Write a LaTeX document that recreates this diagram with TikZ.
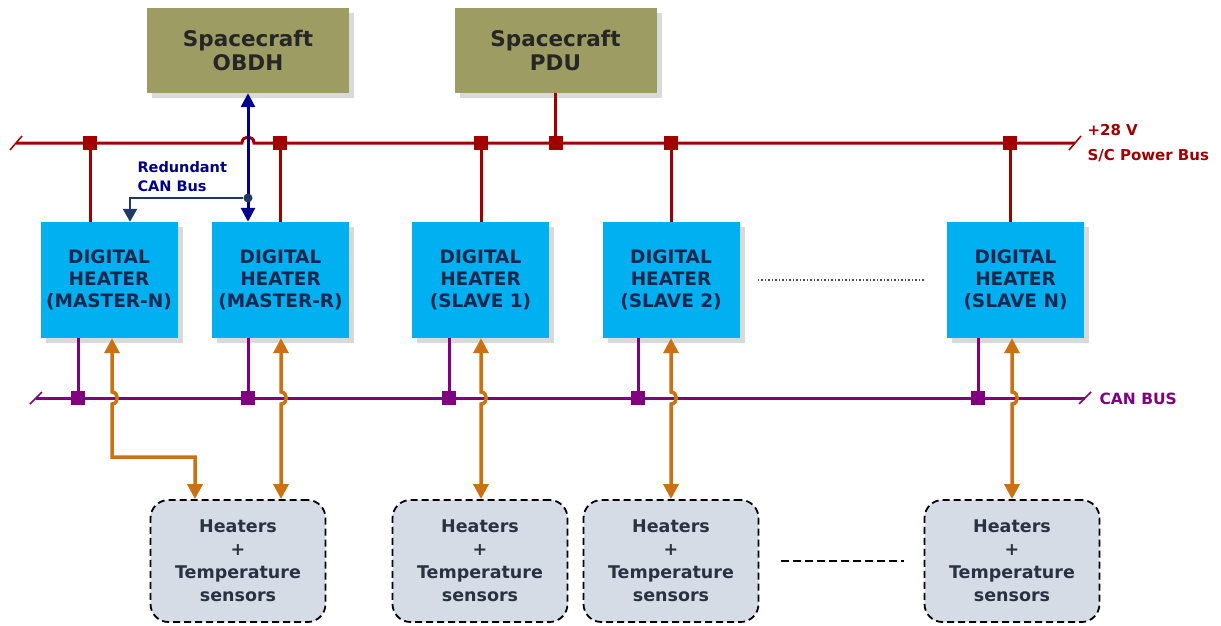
\documentclass[tikz,border=0pt]{standalone}
\usepackage{fontspec}
\setmainfont{DejaVu Sans}
\usetikzlibrary{arrows.meta,positioning,calc,shadows}
\definecolor{scolive}{RGB}{157,156,98}
\definecolor{heatblue}{RGB}{0,176,240}
\definecolor{heattxt}{RGB}{18,40,78}
\definecolor{sensfill}{RGB}{214,220,229}
\definecolor{senstxt}{RGB}{40,50,66}
\definecolor{pwred}{RGB}{162,0,0}
\definecolor{canpurple}{RGB}{128,0,128}
\definecolor{obdhblue}{RGB}{0,0,140}
\definecolor{redblue}{RGB}{31,56,100}
\definecolor{tcorange}{RGB}{204,112,20}

\begin{document}
\begin{tikzpicture}[x=1pt,y=-1pt,
  sc/.style={fill=scolive,minimum width=202pt,minimum height=85pt,align=center,
             font=\fontsize{21.5}{24}\selectfont\bfseries,text=black!85,
             drop shadow={shadow xshift=5pt,shadow yshift=-5pt,opacity=.3}},
  heater/.style={fill=heatblue,minimum width=137pt,minimum height=116pt,align=center,
                 font=\fontsize{18.5}{22}\selectfont\bfseries,text=heattxt,
                 drop shadow={shadow xshift=5pt,shadow yshift=-5pt,opacity=.3}},
  sensors/.style={draw=black,dash pattern=on 7pt off 4pt,line width=1.8pt,
                  rounded corners=18pt,fill=sensfill,minimum width=175pt,
                  minimum height=122pt,align=center,
                  font=\fontsize{17.5}{23}\selectfont\bfseries,text=senstxt},
  ptap/.style={fill=pwred,minimum size=14pt,inner sep=0pt},
  ctap/.style={fill=canpurple,minimum size=14pt,inner sep=0pt},
  pwr/.style={draw=pwred,line width=3pt},
  can/.style={draw=canpurple,line width=3pt},
  tc/.style={draw=tcorange,line width=3.5pt,{Triangle[width=15pt,length=15pt]}-{Triangle[width=15pt,length=15pt]}},
  lbl/.style={font=\fontsize{15}{25}\selectfont\bfseries,align=left,anchor=west}
]
  \useasboundingbox (0,0) rectangle (1221,625);

  % Spacecraft units
  \node[sc] (obdh) at (248,50.5) {Spacecraft\\OBDH};
  \node[sc] (pdu)  at (555.5,50.5) {Spacecraft\\PDU};

  % Digital heaters
  \node[heater] (mastern) at (109,280)    {DIGITAL\\HEATER\\(MASTER-N)};
  \node[heater] (masterr) at (280.5,280)  {DIGITAL\\HEATER\\(MASTER-R)};
  \node[heater] (slave1)  at (480.5,280)  {DIGITAL\\HEATER\\(SLAVE 1)};
  \node[heater] (slave2)  at (671,280)    {DIGITAL\\HEATER\\(SLAVE 2)};
  \node[heater] (slaven)  at (1015.5,280) {DIGITAL\\HEATER\\(SLAVE N)};

  % Heaters + sensors
  \node[sensors] (sens1) at (238,561)  {Heaters\\+\\Temperature\\sensors};
  \node[sensors] (sens2) at (480,561)  {Heaters\\+\\Temperature\\sensors};
  \node[sensors] (sens3) at (671,561)  {Heaters\\+\\Temperature\\sensors};
  \node[sensors] (sens4) at (1012,561) {Heaters\\+\\Temperature\\sensors};

  % Power bus
  \coordinate (pbl) at (16,143);
  \coordinate (pbr) at (1075,143);
  \coordinate (hop) at (248,143);
  \draw[pwr] (pbl) -- ($(hop)+(-6,0)$) .. controls ($(hop)+(-6,-8)$) and ($(hop)+(6,-8)$) .. ($(hop)+(6,0)$) -- (pbr);
  \draw[pwr,line width=1.5pt] ($(pbl)+(-6,7)$) -- ($(pbl)+(6,-7)$);
  \draw[pwr,line width=1.5pt] ($(pbr)+(-6,7)$) -- ($(pbr)+(6,-7)$);
  \node[lbl,text=pwred] at (1084,143) {+28 V\\S/C Power Bus};

  \node[ptap] (pt1) at (90,143) {};
  \node[ptap] (pt2) at (280,143) {};
  \node[ptap] (pt3) at (481,143) {};
  \node[ptap] (pt4) at (555.5,143) {};
  \node[ptap] (pt5) at (671,143) {};
  \node[ptap] (pt6) at (1010,143) {};
  \draw[pwr] (pdu.south) -- (pt4);
  \foreach \t/\b in {pt1/mastern,pt2/masterr,pt3/slave1,pt5/slave2,pt6/slaven}
    \draw[pwr] (\t) -- (\t |- \b.north);

  % CAN bus
  \coordinate (cbl) at (36,398);
  \coordinate (cbr) at (1085,398);
  \draw[can] (cbl) -- (cbr);
  \draw[can,line width=1.5pt] ($(cbl)+(-6,6)$) -- ($(cbl)+(6,-6)$);
  \draw[can,line width=1.5pt] ($(cbr)+(-6,6)$) -- ($(cbr)+(6,-6)$);
  \node[lbl,text=canpurple,font=\fontsize{15.5}{19}\selectfont\bfseries] at (1096,399) {CAN BUS};

  \node[ctap] (ct1) at (78,398) {};
  \node[ctap] (ct2) at (248,398) {};
  \node[ctap] (ct3) at (449,398) {};
  \node[ctap] (ct4) at (638,398) {};
  \node[ctap] (ct5) at (978,398) {};
  \foreach \t/\b in {ct1/mastern,ct2/masterr,ct3/slave1,ct4/slave2,ct5/slaven}
    \draw[can] (\t) -- (\t |- \b.south);

  % Redundant CAN bus
  \draw[draw=obdhblue,line width=3pt,{Triangle[width=14pt,length=14pt]}-{Triangle[width=14pt,length=14pt]}]
    (obdh.south) -- (obdh.south |- masterr.north);
  \node[circle,fill=redblue,minimum size=9pt,inner sep=0pt] (junc) at (248,198) {};
  \draw[draw=redblue,line width=2.5pt,-{Triangle[width=14pt,length=13pt]}]
    (junc) -| ([xshift=21pt]mastern.north);
  \node[lbl,text=obdhblue,font=\fontsize{14.5}{19}\selectfont\bfseries] at (134,177) {Redundant\\CAN Bus};

  % Heater / sensor lines
  \coordinate (t1) at (112,398);
  \coordinate (bend) at (195,457);
  \draw[tc] (mastern.south -| t1) -- ($(t1)+(0,-6)$) .. controls ($(t1)+(7,-6)$) and ($(t1)+(7,6)$) .. ($(t1)+(0,6)$)
    -- (bend -| t1) -- (bend) -- (sens1.north -| bend);
  \coordinate (t2) at (281,398);
  \coordinate (t3) at (481,398);
  \coordinate (t4) at (671,398);
  \coordinate (t5) at (1012,398);
  \foreach \n/\b/\s in {2/masterr/sens1,3/slave1/sens2,4/slave2/sens3,5/slaven/sens4}
    \draw[tc] (\b.south -| t\n) -- ($(t\n)+(0,-6)$) .. controls ($(t\n)+(7,-6)$) and ($(t\n)+(7,6)$) .. ($(t\n)+(0,6)$)
      -- (\s.north -| t\n);

  % more units
  \draw[black!70,dotted,line width=1.5pt] ([xshift=18pt]slave2.east) -- ([xshift=-22pt]slaven.west);
  \draw[black,dash pattern=on 8pt off 4pt,line width=1.6pt] ([xshift=22pt]sens3.east) -- ([xshift=-20pt]sens4.west);
\end{tikzpicture}
\end{document}
